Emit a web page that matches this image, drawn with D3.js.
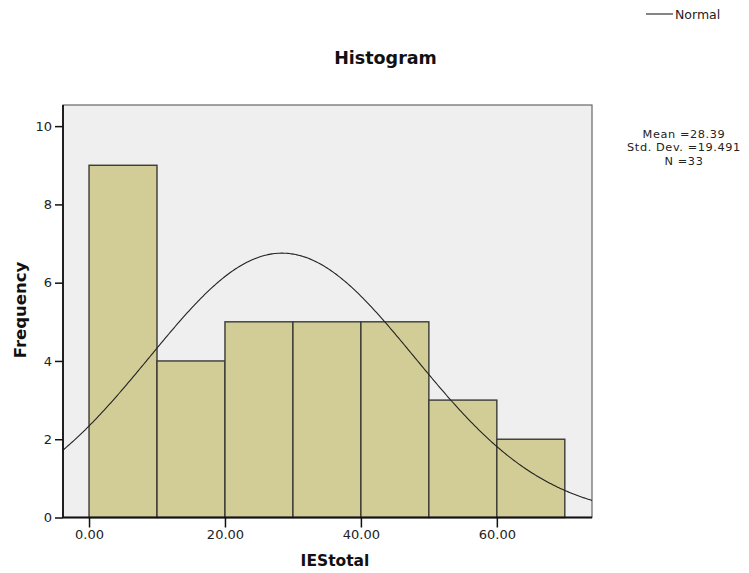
<!DOCTYPE html>
<html><head><meta charset="utf-8">
<script src="https://cdn.jsdelivr.net/npm/d3@7"></script>
<style>body{margin:0;background:#fff;}svg{display:block;}</style>
</head><body>
<svg id="c" width="749" height="573"></svg>
<script>
const binStarts = [0, 10, 20, 30, 40, 50, 60];
const binWidth = 10;
const frequencies = [9, 4, 5, 5, 5, 3, 2];
const xTicks = [0, 20, 40, 60];
const yTicks = [0, 2, 4, 6, 8, 10];
const mean = 28.39, sd = 19.491, n = 33;
const statsLines = ["Mean =28.39", "Std. Dev. =19.491", "N =33"];

const svg = d3.select("#c");
const L = 63, R = 592, T = 105, B = 517.5;
const x = d3.scaleLinear().domain([-3.83, 74]).range([L, R]);
const y = d3.scaleLinear().domain([0, 10.54]).range([B, T]);
const font = "'DejaVu Sans', Verdana, sans-serif";

svg.append("rect").attr("x", L).attr("y", T).attr("width", R - L).attr("height", B - T)
  .attr("fill", "#efefef").attr("stroke", "#666").attr("stroke-width", 1.2);

svg.append("clipPath").attr("id", "pc").append("rect")
  .attr("x", L).attr("y", T).attr("width", R - L).attr("height", B - T);

svg.append("g").selectAll("rect").data(binStarts).join("rect")
  .attr("x", d => x(d)).attr("y", (d, i) => y(frequencies[i]))
  .attr("width", d => x(d + binWidth) - x(d))
  .attr("height", (d, i) => B - y(frequencies[i]))
  .attr("fill", "#d2cd96").attr("stroke", "#3a3a35").attr("stroke-width", 1.4);

// normal curve
const [x0, x1] = x.domain();
const pts = d3.range(0, 401).map(i => x0 + (x1 - x0) * i / 400);
const pdf = v => n * binWidth / (sd * Math.sqrt(2 * Math.PI)) * Math.exp(-0.5 * ((v - mean) / sd) ** 2);
svg.append("path").datum(pts).attr("clip-path", "url(#pc)")
  .attr("d", d3.line().x(d => x(d)).y(d => y(pdf(d))))
  .attr("fill", "none").attr("stroke", "#222").attr("stroke-width", 1.1);

// axes
const yAxis = svg.append("g").attr("transform", `translate(${L},0)`)
  .call(d3.axisLeft(y).tickValues(yTicks).tickFormat(d3.format("d")).tickSizeOuter(0).tickSize(8).tickPadding(3));
const xAxis = svg.append("g").attr("transform", `translate(0,${B})`)
  .call(d3.axisBottom(x).tickValues(xTicks).tickFormat(d3.format(".2f")).tickSizeOuter(0).tickSize(10).tickPadding(2));
[yAxis, xAxis].forEach(a => {
  a.select(".domain").remove();
  a.selectAll("line").attr("stroke", "#111").attr("stroke-width", 1.5);
  a.selectAll("text").attr("font-family", font).attr("font-size", 13).attr("fill", "#222");
});
svg.append("line").attr("x1", L).attr("x2", L).attr("y1", T).attr("y2", B + 0.5).attr("stroke", "#111").attr("stroke-width", 1.8);
svg.append("line").attr("x1", L).attr("x2", R).attr("y1", B).attr("y2", B).attr("stroke", "#111").attr("stroke-width", 1.8);

svg.append("text").attr("x", 385.5).attr("y", 64).attr("text-anchor", "middle")
  .attr("font-family", font).attr("font-weight", "bold").attr("font-size", 17.5).attr("fill", "#111").text("Histogram");
svg.append("text").attr("x", 335).attr("y", 566).attr("text-anchor", "middle")
  .attr("font-family", font).attr("font-weight", "bold").attr("font-size", 15.5).attr("fill", "#111").text("IEStotal");
svg.append("text").attr("transform", "translate(26,310) rotate(-90)").attr("text-anchor", "middle")
  .attr("font-family", font).attr("font-weight", "bold").attr("font-size", 16.5).attr("fill", "#111").text("Frequency");

// legend
svg.append("line").attr("x1", 646).attr("x2", 673).attr("y1", 14).attr("y2", 14).attr("stroke", "#222").attr("stroke-width", 1.1);
svg.append("text").attr("x", 675).attr("y", 18.5).attr("font-family", font).attr("font-size", 12.5).attr("fill", "#222").text("Normal");

svg.append("g").selectAll("text").data(statsLines).join("text")
  .attr("x", 684).attr("y", (d, i) => 138 + i * 13.3).attr("text-anchor", "middle")
  .attr("font-family", font).attr("font-size", 11.3).attr("letter-spacing", 0.6).attr("fill", "#222").text(d => d);
</script>
</body></html>
